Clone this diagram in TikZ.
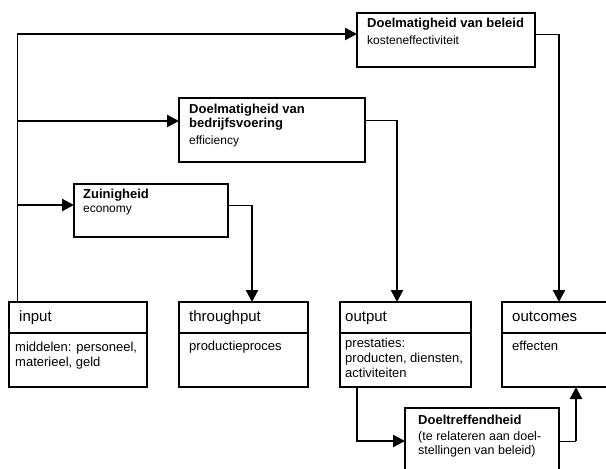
\documentclass[tikz,border=0pt]{standalone}
\usepackage{fontspec}
\setmainfont{Liberation Sans}
\usetikzlibrary{arrows.meta,positioning}
\newcommand{\kop}[1]{{\fontsize{13}{14}\selectfont\bfseries #1}}

\begin{document}
\begin{tikzpicture}[x=1pt,y=-1pt,>={Triangle[length=12pt,width=12pt]}]
    \tikzstyle{box}=[rectangle,draw=black,line width=1.3pt,inner sep=0pt,
    outer sep=0pt,anchor=north west]
    \tikzstyle{txt}=[anchor=north west,inner sep=0pt,align=left,
    font=\fontsize{12}{14}\selectfont,execute at begin node={\rule{0pt}{12pt}}]
    \tikzstyle{hdtxt}=[txt,font=\fontsize{15}{17}\selectfont]
    \tikzstyle{bdtxt}=[txt,font=\fontsize{13}{15}\selectfont]
    \tikzstyle{thinline}=[line width=0.9pt]
    \tikzstyle{flow}=[->,line width=2.2pt]

    \useasboundingbox (0,0) rectangle (606,469);
    \clip (0,0) rectangle (606,469);

    % criteria
    \node[box,minimum width=178pt,minimum height=54pt](beleid) at (357,13){};
    \node[box,minimum width=186pt,minimum height=64pt](bedrijf) at (179,98){};
    \node[box,minimum width=154pt,minimum height=53pt](zuinig) at (74,184){};
    \node[box,minimum width=154pt,minimum height=70pt](doel) at (405,408){};

    \node[txt](beleid_tekst) at ([shift={(10,5)}]beleid.north west)
    {\kop{Doelmatigheid van beleid}\\[3pt]kosteneffectiviteit};
    \node[txt](bedrijf_tekst) at ([shift={(10,6)}]bedrijf.north west)
    {\kop{Doelmatigheid van}\\\kop{bedrijfsvoering}\\[3pt]efficiency};
    \node[txt](zuinig_tekst) at ([shift={(9,5)}]zuinig.north west)
    {\kop{Zuinigheid}\\economy};
    \node[txt,font=\fontsize{12.5}{14}\selectfont](doel_tekst) at ([shift={(13,7)}]doel.north west)
    {\kop{Doeltreffendheid}\\[2pt](te relateren aan doel-\\stellingen van beleid)};

    % keten
    \node[box,minimum width=138pt,minimum height=31pt](input_hd) at (9,302){};
    \node[box,minimum width=138pt,minimum height=54pt](input_bd)[below=0pt of input_hd]{};
    \node[box,minimum width=129pt,minimum height=31pt](through_hd)[right=32pt of input_hd]{};
    \node[box,minimum width=129pt,minimum height=54pt](through_bd)[below=0pt of through_hd]{};
    \node[box,minimum width=131pt,minimum height=31pt](output_hd)[right=32pt of through_hd]{};
    \node[box,minimum width=131pt,minimum height=54pt](output_bd)[below=0pt of output_hd]{};
    \node[box,minimum width=130pt,minimum height=31pt](outcomes_hd)[right=31pt of output_hd]{};
    \node[box,minimum width=130pt,minimum height=54pt](outcomes_bd)[below=0pt of outcomes_hd]{};

    \node[hdtxt](input_kop) at ([shift={(10,7)}]input_hd.north west){input};
    \node[hdtxt](through_kop) at ([shift={(10,7)}]through_hd.north west){throughput};
    \node[hdtxt](output_kop) at ([shift={(5,7)}]output_hd.north west){output};
    \node[hdtxt](outcomes_kop) at ([shift={(10,7)}]outcomes_hd.north west){outcomes};

    \node[bdtxt](input_tekst) at ([shift={(6,9)}]input_bd.north west)
    {middelen: personeel,\\materieel, geld};
    \node[bdtxt](through_tekst) at ([shift={(10,5)}]through_bd.north west){productieproces};
    \node[bdtxt](output_tekst) at ([shift={(5,5)}]output_bd.north west)
    {prestaties:\\producten, diensten,\\activiteiten};
    \node[bdtxt](outcomes_tekst) at ([shift={(10,5)}]outcomes_bd.north west){effecten};

    % verbindingen
    \coordinate (t1) at (17,34);
    \coordinate (t2) at (17,121);
    \coordinate (t3) at (17,205);
    \draw[thinline] (t1 |- input_hd.north) -- (t1);
    \draw[flow] (t1) -- (t1 -| beleid.west);
    \draw[flow] (t2) -- (t2 -| bedrijf.west);
    \draw[flow] (t3) -- (t3 -| zuinig.west);

    \coordinate (k1) at (559,34);
    \coordinate (k2) at (397,120);
    \coordinate (k3) at (252,205);
    \draw[thinline] (k1 -| beleid.east) -- (k1);
    \draw[flow] (k1) -- (k1 |- outcomes_hd.north);
    \draw[thinline] (k2 -| bedrijf.east) -- (k2);
    \draw[flow] (k2) -- (k2 |- output_hd.north);
    \draw[thinline] (k3 -| zuinig.east) -- (k3);
    \draw[flow] (k3) -- (k3 |- through_hd.north);

    \coordinate (k4) at (357,441);
    \coordinate (k5) at (576,441);
    \draw[flow] (k4 |- output_bd.south) -- (k4) -- (doel.west |- k4);
    \draw[thinline] (doel.east |- k5) -- (k5);
    \draw[flow] (k5) -- (k5 |- outcomes_bd.south);
\end{tikzpicture}
\end{document}
